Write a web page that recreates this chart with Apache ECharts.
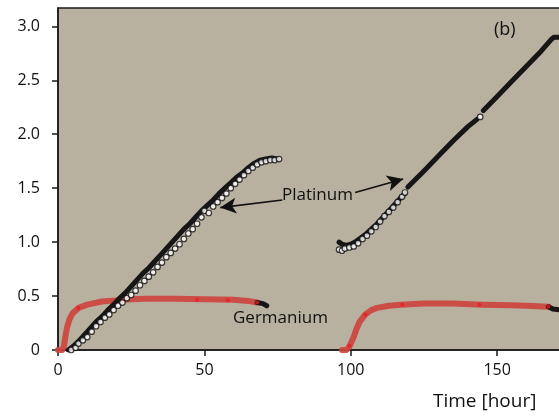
<!DOCTYPE html>
<html><head><meta charset="utf-8">
<script src="https://cdn.jsdelivr.net/npm/echarts@6/dist/echarts.min.js"></script>
<style>html,body{margin:0;padding:0;background:#fff}#c{width:559px;height:418px}</style>
</head><body><div id="c"></div>
<script>
// ---- data (time [hour], value) ----
const xTicks = [0, 50, 100, 150];
const yTicks = [0, 0.5, 1.0, 1.5, 2.0, 2.5, 3.0];

// Germanium (red) segments
const geRun1 = [[0,0],[1.5,0.0],[2,0.03],[2.5,0.12],[3,0.2],[4,0.29],[5,0.34],[7,0.39],[10,0.42],[15,0.45],[20,0.46],[25,0.47],[30,0.475],[40,0.475],[50,0.47],[60,0.465],[65,0.455],[68,0.44]];
const geRun1End = [[68,0.44],[70,0.43],[71.3,0.41]];
const geRun2 = [[97,0],[98.5,0.0],[99.5,0.03],[100,0.06],[101,0.12],[102,0.2],[103,0.26],[105,0.33],[107,0.37],[109,0.39],[113,0.41],[117,0.42],[125,0.43],[135,0.43],[145,0.42],[155,0.415],[160,0.41],[167.5,0.40]];
const geRun2End = [[167.5,0.40],[169,0.38],[172,0.37]];
const geDots = [[6.9,0.39],[47.5,0.465],[58,0.46],[68,0.44],[99.5,0.04],[105,0.33],[117.6,0.42],[143.9,0.42],[167.5,0.40]];

// Platinum (black line)
const ptRun1 = [[3.5,0],[5,0.03],[7,0.08],[9,0.14],[11,0.2],[13,0.26],[15,0.31],[17,0.37],[19,0.42],[21,0.48],[23,0.53],[25,0.59],[27,0.65],[29,0.71],[31,0.76],[33,0.82],[35,0.88],[37,0.94],[39,1.0],[41,1.06],[43,1.12],[45,1.17],[47,1.23],[49,1.29],[51,1.34],[53,1.39],[55,1.45],[57,1.5],[59,1.55],[61,1.6],[63,1.64],[65,1.69],[67,1.73],[69,1.76],[71,1.77],[73,1.78],[75,1.77]];
const ptRun2a = [[96,1.0],[97,0.98],[98.5,0.97],[100,0.98],[101.5,1.0],[103,1.03],[105,1.07],[107,1.12],[109,1.17],[111,1.23],[113,1.29],[115,1.35],[117,1.41],[118.5,1.45]];
const ptRun2b = [[119.5,1.51],[125,1.66],[130,1.8],[135,1.94],[140,2.07],[143.2,2.14]];
const ptRun2c = [[145.3,2.22],[150,2.35],[155,2.49],[160,2.63],[165,2.77],[168.5,2.88],[169.5,2.9],[172,2.9]];

// Platinum (open circles)
const ptCircles = [[4.5,0.0],[6,0.02],[7,0.06],[8.5,0.09],[10,0.12],[11.5,0.17],[13,0.22],[14.5,0.26],[16,0.3],[17.5,0.33],[19,0.37],[20.5,0.41],[22,0.44],[23.5,0.48],[25,0.51],[26.5,0.55],[28,0.6],[29.5,0.64],[31,0.68],[32.5,0.72],[34,0.77],[35.5,0.81],[37,0.86],[38.5,0.9],[40,0.94],[41.5,0.98],[43,1.03],[44.5,1.08],[46,1.12],[47.5,1.17],[49,1.23],[50,1.29],[51.5,1.27],[53,1.33],[54.5,1.37],[56,1.41],[57.5,1.45],[59,1.5],[60.5,1.54],[62,1.58],[63.5,1.62],[65,1.66],[66.5,1.69],[68,1.72],[69.5,1.74],[71,1.75],[72.5,1.76],[74,1.76],[75.5,1.77],
  [96,0.93],[97,0.92],[98,0.94],[99.5,0.95],[101,0.96],[102.5,0.99],[104,1.03],[105.5,1.06],[107,1.1],[108.5,1.14],[110,1.19],[111.5,1.24],[113,1.28],[114.5,1.32],[116,1.37],[117.5,1.42],[118.5,1.46],[144.2,2.16]];

// annotation arrows (data coords: from -> to)
const arrowA = [[76.6,1.39],[55.4,1.32]];
const arrowB = [[101.5,1.46],[117.9,1.585]];

const FONT = '"Open Sans", "Noto Sans", sans-serif';
const chart = echarts.init(document.getElementById('c'));
const red = 'rgba(204,68,62,0.92)';
const blk = '#161616';
const lineS = (data, color, w, z) => ({type:'line', data, showSymbol:false, symbol:'none', lineStyle:{color, width:w, cap:'round', join:'round'}, z, animation:false, silent:true});

chart.setOption({
  animation:false,
  grid:{left:58, top:8, width:527, height:342, outerBoundsMode:'none', containLabel:false, show:true, backgroundColor:'#b8b19f', borderColor:'#1a1a1a', borderWidth:1.5},
  xAxis:{type:'value', min:0, max:180,
    axisLine:{lineStyle:{color:'#1a1a1a', width:1.5}},
    axisTick:{customValues:xTicks, length:6, lineStyle:{color:'#1a1a1a', width:1.5}},
    axisLabel:{customValues:xTicks, color:'#111', fontSize:16, fontFamily:FONT, margin:12},
    splitLine:{show:false}},
  yAxis:{type:'value', min:0, max:3.17,
    axisLine:{lineStyle:{color:'#1a1a1a', width:1.5}},
    axisTick:{customValues:yTicks, length:6, lineStyle:{color:'#1a1a1a', width:1.5}},
    axisLabel:{customValues:yTicks, color:'#111', fontSize:16, fontFamily:FONT, margin:18,
      formatter:v => v === 0 ? '0' : v.toFixed(1)},
    splitLine:{show:false}},
  series:[
    lineS(geRun1, red, 6, 2),
    lineS(geRun2, red, 6, 2),
    lineS(geRun1End, blk, 5, 2),
    lineS(geRun2End, blk, 5, 2),
    {type:'scatter', data:geDots, symbolSize:4, itemStyle:{color:'#ee1a20'}, z:3, silent:true},
    lineS(ptRun1, blk, 5, 4),
    lineS(ptRun2a, blk, 5, 4),
    lineS(ptRun2b, blk, 5, 4),
    Object.assign(lineS(ptRun2c, blk, 5, 4), {
      markLine:{silent:true, symbol:['none','arrow'], symbolSize:[12,16],
        lineStyle:{color:'#111', width:1.6, type:'solid'}, label:{show:false},
        data:[[{coord:arrowA[0]},{coord:arrowA[1]}],[{coord:arrowB[0]},{coord:arrowB[1]}]]}}),
    {type:'scatter', data:ptCircles, symbol:'circle', symbolSize:5.5, itemStyle:{color:'#fff', borderColor:'#111', borderWidth:1.2}, z:5, silent:true}
  ],
  graphic:[
    {type:'text', left:282, top:187, style:{text:'Platinum', fill:'#111', font:'17px '+FONT}},
    {type:'text', left:233, top:310, style:{text:'Germanium', fill:'#111', font:'17px '+FONT}},
    {type:'text', left:494, top:21, style:{text:'(b)', fill:'#111', font:'18px '+FONT}},
    {type:'text', left:433, top:392, style:{text:'Time [hour]', fill:'#111', font:'19px '+FONT}}
  ]
});
</script></body></html>
